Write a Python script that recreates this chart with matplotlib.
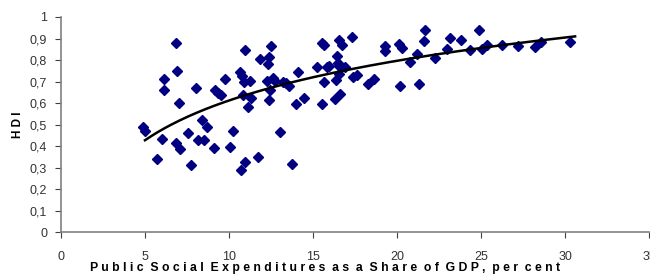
import matplotlib
matplotlib.use('Agg')
import matplotlib.pyplot as plt
import numpy as np

plt.rcParams['font.family'] = ['Liberation Sans', 'DejaVu Sans']

# public social expenditure (% of GDP) vs HDI
pse = [4.9, 5.0, 5.7, 6.03, 6.15, 6.15, 6.83, 6.9, 7.02, 6.83, 7.06, 7.56, 7.76, 8.04,
       8.15, 8.51, 8.41, 8.69, 9.09, 9.18, 9.36, 9.5, 9.78, 10.08, 10.26, 10.73, 10.95,
       10.93, 10.67, 10.77, 10.87, 11.25, 10.85, 11.29, 11.13, 11.74, 11.85, 12.48, 12.38,
       12.32, 12.24, 12.6, 12.74, 12.44, 12.36, 13.04, 13.2, 13.39, 13.55, 13.77, 13.97,
       14.13, 14.49, 15.26, 15.55, 15.65, 16.55, 16.75, 17.32, 15.85, 15.97, 16.45, 16.49,
       16.57, 16.92, 16.55, 16.39, 15.64, 17.4, 17.6, 16.31, 16.61, 15.55, 18.26, 18.63,
       19.3, 19.3, 20.12, 20.28, 20.18, 20.79, 21.21, 21.29, 21.59, 21.69, 22.28, 22.98,
       23.17, 23.79, 24.36, 24.88, 25.06, 25.38, 26.25, 27.2, 28.23, 28.57, 30.3]
hdi = [0.49, 0.47, 0.34, 0.436, 0.714, 0.663, 0.878, 0.751, 0.601, 0.413, 0.387, 0.461,
       0.311, 0.67, 0.429, 0.429, 0.52, 0.49, 0.392, 0.663, 0.647, 0.636, 0.714, 0.396,
       0.47, 0.289, 0.328, 0.847, 0.746, 0.725, 0.697, 0.701, 0.640, 0.624, 0.582, 0.351,
       0.804, 0.863, 0.813, 0.782, 0.705, 0.717, 0.701, 0.663, 0.616, 0.467, 0.699, 0.694,
       0.678, 0.317, 0.598, 0.743, 0.622, 0.767, 0.88, 0.871, 0.895, 0.869, 0.908, 0.767,
       0.771, 0.818, 0.787, 0.771, 0.767, 0.737, 0.706, 0.7, 0.72, 0.731, 0.62, 0.641,
       0.596, 0.689, 0.713, 0.864, 0.841, 0.875, 0.855, 0.681, 0.793, 0.83, 0.689, 0.889,
       0.939, 0.81, 0.853, 0.903, 0.891, 0.849, 0.939, 0.853, 0.872, 0.872, 0.867, 0.862,
       0.884, 0.883]

xticks = [0, 5, 10, 15, 20, 25, 30, 35]
yticks = [0, 0.1, 0.2, 0.3, 0.4, 0.5, 0.6, 0.7, 0.8, 0.9, 1]

pse = np.array(pse)
hdi = np.array(hdi)

# logarithmic trend line like excel
b, a = np.polyfit(np.log(pse), hdi, 1)
xf = np.linspace(5.0, 30.6, 200)
yf = a + b * np.log(xf)

fig = plt.figure(figsize=(6.5, 2.78), dpi=100)
ax = fig.add_axes([0.0938, 0.1637, 0.9047, 0.7753])

ax.plot(pse, hdi, linestyle='none', marker='D', ms=5, color='#000080', mec='#000080')
ax.plot(xf, yf, color='black', lw=1.8)

ax.set_xlim(0, 35)
ax.set_ylim(0, 1)
ax.set_xticks(xticks)
ax.set_yticks(yticks)
ax.set_xticklabels([str(t) for t in xticks])
ax.set_yticklabels(['0' if t == 0 else ('1' if t == 1 else ('%.1f' % t).replace('.', ',')) for t in yticks])

for s in ['top', 'right']:
    ax.spines[s].set_visible(False)
for s in ['left', 'bottom']:
    ax.spines[s].set_color('#808080')
    ax.spines[s].set_linewidth(1.2)
ax.tick_params(axis='both', direction='out', length=4, color='#404040', width=0.8,
               labelsize=9, labelcolor='#333333')
ax.tick_params(axis='x', pad=9)
ax.tick_params(axis='y', pad=6)

xlab = 'Public Social Expenditures as a Share of GDP, per cent'
ax.set_xlabel('  '.join(' '.join(w) for w in xlab.split(' ')), fontsize=8.8, fontweight='bold')
ax.xaxis.set_label_coords(0.449, -0.135)
ax.set_ylabel('H D I', fontsize=8.5, fontweight='bold', labelpad=4)

fig.savefig('out.png', dpi=100)
plt.close(fig)
